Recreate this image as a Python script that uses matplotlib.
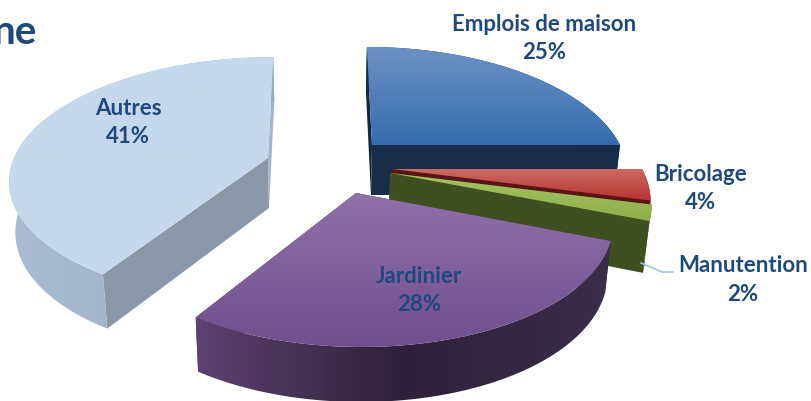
import numpy as np
import matplotlib
matplotlib.use("Agg")
import matplotlib.pyplot as plt
from matplotlib.colors import LinearSegmentedColormap
from matplotlib.patches import Polygon

# ---- data ----
categories = ["Emplois de maison", "Bricolage", "Manutention", "Jardinier", "Autres"]
values = [25, 4, 2, 28, 41]

# ---- layout / style ----
W, H = 811, 401
apex = [(372, 145), (392, 169), (390, 173), (356, 193), (268, 158)]
radius_x = [248, 250, 253, 250, 254]
radius_y = [119.8, 119.8, 119.8, 119.8, 118]
persp = [0.222, 0.222, 0.222, 0.222, 0.17]
label_xy = [(544, 38.5), (701, 188.5), (743, 280), (419, 290.5), (128, 122.5)]
top_cols = [("#6C92C6", "#366CAE"), ("#CD6A64", "#B6322E"), ("#A4C263", "#90B04C"),
            ("#8F72A9", "#6F4F8E"), ("#C5D8ED", "#C5D8ED")]
rim_cols = [("#182D4A", "#182D4A"), ("#5A1414", "#5A1414"), ("#404F20", "#3A4718"),
            ("#5C4272", "#2E2038", "#3B2E4A"), ("#AABCD3", "#98A9BF")]
start_face = ["#12263F", "#5A1414", "#404F20", "#3A2D48", "#8A97A6"]
end_face = ["#182D4A", "#5A1414", "#404F20", "#3A2D48", "#A3B4CC"]
draw_order = [0, 1, 2, 4, 3]
VANISH_X = 320
TEXT = "#1F497D"

plt.rcParams["font.family"] = ["Lato", "DejaVu Sans"]
fig = plt.figure(figsize=(W / 100, H / 100), dpi=100, facecolor="white")
ax = fig.add_axes([0, 0, 1, 1])


def project(ang, rx, ry, k, a):
    """Angle clockwise from 12 o'clock on the tilted pie plane to pixels."""
    u, v = np.sin(ang), np.cos(ang)
    c = (VANISH_X - a[0]) * 0.12
    d = 1 + k * v
    return a[0] + (u * rx + c * v) / d, a[1] - v * ry / d, v


def drop(x, y, v):
    return x + (VANISH_X - x) * 0.02, y + 50 - 5 * v


def grad_fill(pts, cols, z, vertical=True):
    pts = np.asarray(pts)
    poly = Polygon(pts, closed=True, fc="none", ec="none", transform=ax.transData)
    ax.add_patch(poly)
    cmap = LinearSegmentedColormap.from_list("g", cols)
    g = np.linspace(0, 1, 256)
    g = g[:, None] if vertical else g[None, :]
    x0, x1, y0, y1 = pts[:, 0].min(), pts[:, 0].max(), pts[:, 1].min(), pts[:, 1].max()
    im = ax.imshow(g, cmap=cmap, vmin=0, vmax=1, aspect="auto", zorder=z,
                   extent=(x0, x1, y1, y0), interpolation="bilinear")
    im.set_clip_path(poly)


fracs = np.array(values) / np.sum(values)
edges = np.concatenate([[0], np.cumsum(fracs)]) * 2 * np.pi

z = 1
for i in draw_order:
    a = apex[i]
    t = np.linspace(edges[i], edges[i + 1], 120)
    xs, ys, vs = project(t, radius_x[i], radius_y[i], persp[i], a)
    bx, by = drop(xs, ys, vs)
    ax0, ay0 = drop(a[0], a[1], 0)
    # radial cut faces
    ax.add_patch(Polygon([a, (xs[0], ys[0]), (bx[0], by[0]), (ax0, ay0)], fc=start_face[i], ec="none", zorder=z)); z += 1
    ax.add_patch(Polygon([a, (xs[-1], ys[-1]), (bx[-1], by[-1]), (ax0, ay0)], fc=end_face[i], ec="none", zorder=z)); z += 1
    # outer rim wall
    rim = np.column_stack([np.r_[xs, bx[::-1]], np.r_[ys, by[::-1]]])
    grad_fill(rim, rim_cols[i], z, vertical=False); z += 1
    # top surface
    top = np.column_stack([np.r_[a[0], xs], np.r_[a[1], ys]])
    grad_fill(top, top_cols[i], z); z += 1

# leader line for the smallest slice
ax.plot([641, 662, 673], [263, 272, 272], color="#9DC3E6", lw=1.2, zorder=z, solid_capstyle="round")

for name, val, (lx, ly) in zip(categories, values, label_xy):
    ax.text(lx, ly, f"{name}\n{val}%", ha="center", va="center", color=TEXT,
            fontsize=16, fontweight="bold", linespacing=1.42, zorder=z + 1)
ax.text(37, 44, "ne", ha="right", va="baseline", color=TEXT, fontsize=29, fontweight="bold", zorder=z + 1)

ax.set_xlim(0, W)
ax.set_ylim(H, 0)
ax.axis("off")
fig.savefig("out.png", dpi=100, facecolor="white")
